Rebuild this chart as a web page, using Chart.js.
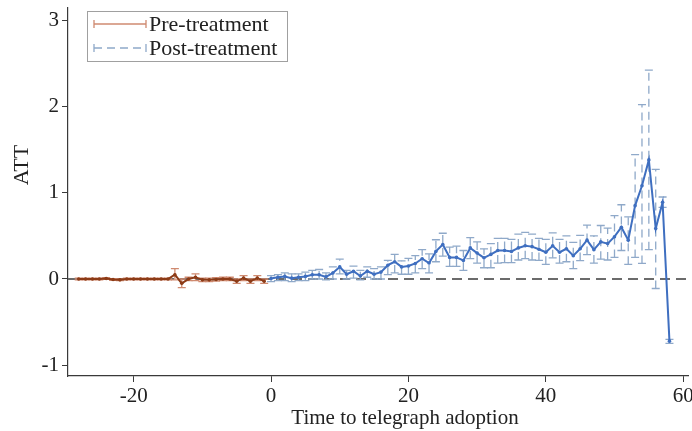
<!DOCTYPE html>
<html>
<head>
<meta charset="utf-8">
<script src="https://cdn.jsdelivr.net/npm/chart.js@4"></script>
<style>
  html, body { margin: 0; padding: 0; background: #fff; }
  #wrap { width: 692px; height: 431px; position: relative; }
</style>
</head>
<body>
<div id="wrap"><canvas id="att-chart"></canvas></div>
<script>
// event time, pre-treatment (-28 .. -1)
const preX = [-28, -27, -26, -25, -24, -23, -22, -21, -20, -19, -18, -17, -16, -15,
              -14, -13, -12, -11, -10, -9, -8, -7, -6, -5, -4, -3, -2, -1];
const preAtt = [0, 0, 0, 0, 0.005, -0.005, -0.01, 0, 0, 0, 0, 0, 0, 0,
                0.05, -0.05, 0, 0.02, -0.01, -0.01, -0.005, 0, 0, -0.025, 0.01, -0.025, 0.01, -0.025];
const preLow = [-0.01, -0.01, -0.01, -0.01, -0.005, -0.015, -0.02, -0.01, -0.01, -0.01, -0.01, -0.01, -0.01, -0.01,
                -0.01, -0.1, -0.02, -0.02, -0.03, -0.03, -0.025, -0.02, -0.02, -0.05, -0.02, -0.05, -0.02, -0.05];
const preHigh = [0.01, 0.01, 0.01, 0.01, 0.015, 0.005, 0, 0.01, 0.01, 0.01, 0.01, 0.01, 0.01, 0.01,
                 0.12, 0, 0.02, 0.06, 0.01, 0.01, 0.015, 0.02, 0.02, 0, 0.04, 0, 0.04, 0];

// event time, post-treatment (0 .. 58)
const postX = Array.from({ length: 59 }, (_, i) => i);
const postAtt = [0.005, 0.02, 0.03, 0.01, 0.02, 0.03, 0.05, 0.05, 0.025, 0.07,
                 0.14, 0.055, 0.09, 0.035, 0.09, 0.055, 0.08, 0.16, 0.2, 0.14,
                 0.15, 0.18, 0.235, 0.185, 0.32, 0.4, 0.25, 0.25, 0.215, 0.36,
                 0.3, 0.245, 0.285, 0.33, 0.33, 0.32, 0.36, 0.385, 0.375, 0.345,
                 0.31, 0.385, 0.31, 0.35, 0.27, 0.35, 0.45, 0.34, 0.43, 0.41,
                 0.49, 0.6, 0.45, 0.85, 1.08, 1.38, 0.585, 0.89, -0.72];
const postLow = [-0.03, -0.02, -0.02, -0.03, -0.02, -0.02, 0, 0, -0.01, 0,
                 0.06, 0, 0.01, -0.01, 0.02, 0, 0, 0.05, 0.07, 0.055,
                 0.055, 0.07, 0.12, 0.07, 0.2, 0.265, 0.147, 0.147, 0.1, 0.235,
                 0.185, 0.13, 0.13, 0.185, 0.19, 0.19, 0.22, 0.235, 0.22, 0.215,
                 0.17, 0.245, 0.185, 0.2, 0.12, 0.213, 0.283, 0.185, 0.23, 0.22,
                 0.25, 0.33, 0.17, 0.25, 0.18, 0.34, -0.11, 0.83, -0.746];
const postHigh = [0.04, 0.05, 0.07, 0.06, 0.06, 0.08, 0.1, 0.11, 0.07, 0.14,
                  0.23, 0.1, 0.15, 0.1, 0.14, 0.12, 0.14, 0.215, 0.285, 0.21,
                  0.24, 0.27, 0.34, 0.29, 0.455, 0.53, 0.37, 0.38, 0.33, 0.48,
                  0.43, 0.35, 0.41, 0.47, 0.47, 0.46, 0.52, 0.54, 0.52, 0.47,
                  0.46, 0.535, 0.46, 0.5, 0.425, 0.505, 0.625, 0.5, 0.62, 0.59,
                  0.735, 0.86, 0.72, 1.44, 2.02, 2.42, 1.27, 0.95, -0.7];

const xTicks = [-20, 0, 20, 40, 60];
const yTicks = [-1, 0, 1, 2, 3];

const FONT = "'Liberation Serif', 'Times New Roman', serif";
const AXIS_COLOR = '#3a3a3a';
const PRE_LINE = '#8c3b17';
const PRE_BAR = '#cf8a70';
const POST_LINE = '#3f6fc0';
const POST_BAR = '#8fa9c9';

function drawBars(ctx, x, y, xs, lows, highs, color, dash) {
    ctx.save();
    ctx.strokeStyle = color;
    ctx.lineWidth = 1.3;
    xs.forEach((v, i) => {
        const px = x.getPixelForValue(v);
        const top = y.getPixelForValue(highs[i]);
        const bot = y.getPixelForValue(lows[i]);
        ctx.setLineDash(dash);
        ctx.beginPath();
        ctx.moveTo(px, bot);
        ctx.lineTo(px, top);
        ctx.stroke();
        ctx.setLineDash([]);
        ctx.beginPath();
        ctx.moveTo(px - 4, top); ctx.lineTo(px + 4, top);
        ctx.moveTo(px - 4, bot); ctx.lineTo(px + 4, bot);
        ctx.stroke();
    });
    ctx.restore();
}

const errorBars = {
    id: 'errorBars',
    beforeDatasetsDraw(chart) {
        const { ctx, chartArea, scales: { x, y } } = chart;
        // reference line at zero
        const y0 = y.getPixelForValue(0);
        ctx.save();
        ctx.strokeStyle = '#6b6b6b';
        ctx.lineWidth = 1.8;
        ctx.setLineDash([10, 6]);
        ctx.beginPath();
        ctx.moveTo(chartArea.left, y0);
        ctx.lineTo(chartArea.right, y0);
        ctx.stroke();
        ctx.restore();

        drawBars(ctx, x, y, preX, preLow, preHigh, PRE_BAR, []);
        drawBars(ctx, x, y, postX, postLow, postHigh, POST_BAR, [8, 5]);
    }
};

const titlesAndLegend = {
    id: 'titlesAndLegend',
    afterDraw(chart) {
        const { ctx } = chart;
        ctx.save();
        ctx.fillStyle = '#222';

        // axis titles
        ctx.font = `21px ${FONT}`;
        ctx.textAlign = 'center';
        ctx.textBaseline = 'middle';
        ctx.fillText('Time to telegraph adoption', 405, 418);
        ctx.save();
        ctx.translate(22, 165);
        ctx.rotate(-Math.PI / 2);
        ctx.font = `22px ${FONT}`;
        ctx.fillText('ATT', 0, 0);
        ctx.restore();

        // legend box
        ctx.strokeStyle = '#a0a0a0';
        ctx.lineWidth = 1;
        ctx.strokeRect(87.5, 11.5, 200, 50);

        const items = [
            { label: 'Pre-treatment', color: PRE_BAR, dash: [], y: 24 },
            { label: 'Post-treatment', color: POST_BAR, dash: [8, 5], y: 48 }
        ];
        items.forEach(it => {
            ctx.strokeStyle = it.color;
            ctx.lineWidth = 1.3;
            ctx.setLineDash(it.dash);
            ctx.beginPath();
            ctx.moveTo(94, it.y); ctx.lineTo(146, it.y);
            ctx.stroke();
            ctx.setLineDash([]);
            ctx.beginPath();
            ctx.moveTo(94, it.y - 4); ctx.lineTo(94, it.y + 4);
            ctx.moveTo(146, it.y - 4); ctx.lineTo(146, it.y + 4);
            ctx.stroke();
            ctx.fillStyle = '#222';
            ctx.font = `22px ${FONT}`;
            ctx.textAlign = 'left';
            ctx.fillText(it.label, 149, it.y + 1);
        });
        ctx.restore();
    }
};

new Chart(document.getElementById('att-chart'), {
    type: 'line',
    data: {
        datasets: [
            {
                label: 'Pre-treatment',
                data: preX.map((v, i) => ({ x: v, y: preAtt[i] })),
                borderColor: PRE_LINE,
                backgroundColor: PRE_LINE,
                borderWidth: 2,
                pointRadius: 1.8,
                pointBorderWidth: 0,
                tension: 0
            },
            {
                label: 'Post-treatment',
                data: postX.map((v, i) => ({ x: v, y: postAtt[i] })),
                borderColor: POST_LINE,
                backgroundColor: POST_LINE,
                borderWidth: 2,
                pointRadius: 1.8,
                pointBorderWidth: 0,
                tension: 0
            }
        ]
    },
    options: {
        responsive: true,
        maintainAspectRatio: false,
        animation: false,
        layout: { padding: { top: 8, right: 0, left: 0, bottom: 0 } },
        plugins: {
            legend: { display: false },
            tooltip: { enabled: false }
        },
        scales: {
            x: {
                type: 'linear',
                min: -29.56,
                max: 60.7,
                afterBuildTicks: (scale) => { scale.ticks = xTicks.map(v => ({ value: v })); },
                afterFit: (scale) => { scale.height = 55; scale.paddingLeft = 0; scale.paddingRight = 0; },
                border: { display: true, color: AXIS_COLOR, width: 1.2 },
                grid: { display: true, drawOnChartArea: false, drawTicks: true, tickLength: 6, color: AXIS_COLOR },
                ticks: { font: { family: FONT, size: 21 }, color: '#222', padding: 2, maxRotation: 0 }
            },
            y: {
                type: 'linear',
                min: -1.124,
                max: 3.14,
                afterBuildTicks: (scale) => { scale.ticks = yTicks.map(v => ({ value: v })); },
                afterFit: (scale) => { scale.width = 68; scale.paddingTop = 0; scale.paddingBottom = 0; },
                border: { display: true, color: AXIS_COLOR, width: 1.2 },
                grid: { display: true, drawOnChartArea: false, drawTicks: true, tickLength: 6, color: AXIS_COLOR },
                ticks: { font: { family: FONT, size: 21 }, color: '#222', padding: 3 }
            }
        }
    },
    plugins: [errorBars, titlesAndLegend]
});
</script>
</body>
</html>
